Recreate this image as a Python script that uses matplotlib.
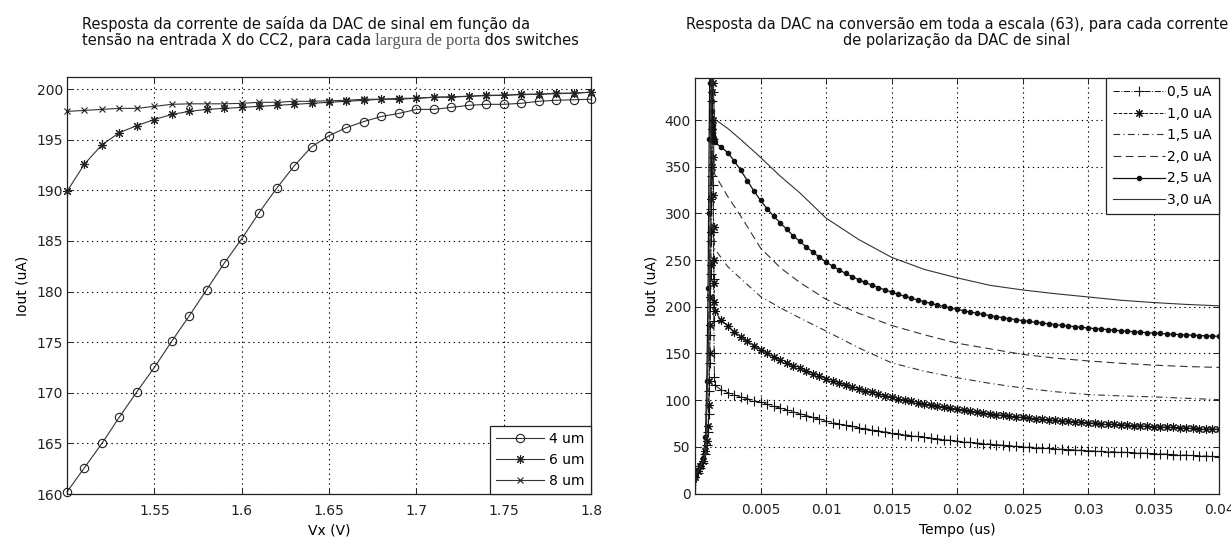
import numpy as np
import matplotlib
matplotlib.use('Agg')
import matplotlib.pyplot as plt
from matplotlib.transforms import IdentityTransform

plt.rcParams['font.family'] = ['DejaVu Sans']
plt.rcParams['font.size'] = 10

# ---------------- Left chart data ----------------
vx = [1.50, 1.51, 1.52, 1.53, 1.54, 1.55, 1.56, 1.57, 1.58, 1.59, 1.60,
      1.61, 1.62, 1.63, 1.64, 1.65, 1.66, 1.67, 1.68, 1.69, 1.70,
      1.71, 1.72, 1.73, 1.74, 1.75, 1.76, 1.77, 1.78, 1.79, 1.80]
iout_4um = [160.2, 162.6, 165.0, 167.6, 170.1, 172.5, 175.1, 177.6, 180.2, 182.8, 185.2,
            187.8, 190.2, 192.4, 194.3, 195.4, 196.2, 196.8, 197.3, 197.6, 198.0,
            198.0, 198.2, 198.4, 198.5, 198.5, 198.6, 198.8, 198.9, 198.95, 199.0]
iout_6um = [189.9, 192.6, 194.5, 195.7, 196.4, 197.0, 197.5, 197.8, 198.0, 198.1, 198.2,
            198.3, 198.4, 198.5, 198.6, 198.7, 198.8, 198.9, 199.0, 199.0, 199.1,
            199.2, 199.2, 199.3, 199.4, 199.4, 199.5, 199.5, 199.6, 199.6, 199.7]
iout_8um = [197.8, 197.9, 198.0, 198.1, 198.1, 198.3, 198.5, 198.55, 198.55, 198.55, 198.6,
            198.7, 198.7, 198.8, 198.8, 198.85, 198.9, 199.0, 199.0, 199.1, 199.1,
            199.2, 199.25, 199.3, 199.35, 199.4, 199.45, 199.5, 199.55, 199.6, 199.7]
left_labels = ['4 um', '6 um', '8 um']
left_xticks = [1.55, 1.6, 1.65, 1.7, 1.75, 1.8]
left_yticks = [160, 165, 170, 175, 180, 185, 190, 195, 200]

# ---------------- Right chart data ----------------
# start-up transient (dense simulator steps)
t_spike = [0.0, 0.0002, 0.0004, 0.0006, 0.0008, 0.0009, 0.001, 0.00104, 0.00108, 0.00112,
           0.00115, 0.00118, 0.0012, 0.00122, 0.00124, 0.00126, 0.00128, 0.0013, 0.00132,
           0.00134, 0.00136, 0.00138, 0.0014, 0.00142, 0.00144, 0.00146, 0.00148]
spike_05 = [0, 22, 27, 33, 42, 52, 66, 85, 110, 140, 170, 200, 235, 270, 305, 340, 380, 420,
            470, 430, 380, 330, 280, 230, 185, 150, 125]
spike_10 = [18, 24, 29, 35, 45, 56, 72, 95, 120, 150, 180, 210, 245, 280, 315, 350, 390, 430,
            470, 440, 400, 360, 320, 285, 250, 225, 205]
spike_25 = [20, 25, 30, 38, 60, 120, 220, 300, 380, 440, 470, 470, 460, 450, 440, 430, 420,
            410, 400, 395, 390, 386, 383, 381, 379, 378, 377]

# settling part, samples every 0.0005 us from 0.0015 to 0.04
t_fine = [round(0.0015 + 0.0005 * k, 5) for k in range(78)]
i_05 = [116, 111, 108, 105.5, 103.5, 101.5, 99.5, 97.5, 95.5, 93.5,
        91.5, 89.5, 87.5, 85.5, 83.5, 81.5, 79.5, 77.5, 76, 74.5,
        73, 71.8, 70.6, 69.4, 68.3, 67.2, 66.1, 65, 64, 63,
        62, 61.1, 60.2, 59.3, 58.5, 57.7, 56.9, 56.1, 55.4, 54.7,
        54.1, 53.5, 52.9, 52.3, 51.7, 51.2, 50.7, 50.2, 49.7, 49.2,
        48.7, 48.3, 47.9, 47.5, 47.1, 46.7, 46.3, 45.9, 45.5, 45.2,
        44.9, 44.6, 44.3, 44.0, 43.7, 43.4, 43.1, 42.8, 42.5, 42.2,
        41.6, 41.3, 41.0, 40.7, 40.4, 40.1, 39.8, 39.5]
i_10 = [195, 186, 179, 173, 168, 163, 158.5, 154, 150, 146.5,
        143, 140, 137, 134, 131, 128.3, 125.6, 123, 120.6, 118.3,
        116.1, 114, 112, 110, 108.2, 106.4, 104.7, 103, 101.5, 100,
        98.6, 97.2, 95.9, 94.6, 93.4, 92.2, 91.1, 90, 89, 88,
        87.1, 86.2, 85.3, 84.5, 83.7, 82.9, 82.2, 81.5, 80.8, 80.1,
        79.5, 78.9, 78.3, 77.7, 77.2, 76.7, 76.2, 75.7, 75.2, 74.8,
        74.4, 74.0, 73.6, 73.2, 72.8, 72.4, 72.0, 71.7, 71.4, 71.1,
        70.8, 70.5, 70.2, 69.9, 69.6, 69.3, 69.0, 68.8]
i_25 = [376, 371, 365, 356, 346, 335, 324, 314, 305, 297,
        290, 283, 276, 270, 264, 258.5, 253, 248, 243.5, 239.5,
        235.7, 232.2, 229, 226, 223.2, 220.6, 218.1, 215.7, 213.4, 211.3,
        209.3, 207.3, 205.4, 203.6, 201.9, 200.3, 198.7, 197.2, 195.8, 194.4,
        193.1, 191.8, 190.6, 189.4, 188.3, 187.2, 186.2, 185.2, 184.3, 183.4,
        182.5, 181.7, 180.9, 180.1, 179.4, 178.7, 178.0, 177.3, 176.7, 176.1,
        175.5, 174.9, 174.3, 173.8, 173.3, 172.8, 172.3, 171.8, 171.4, 171.0,
        170.6, 170.2, 169.8, 169.5, 169.2, 168.9, 168.6, 168.3]

# curves drawn without markers
t_coarse = [0.0, 0.0004, 0.0008, 0.0011, 0.00125, 0.0014,
            0.0015, 0.0025, 0.0035, 0.005, 0.0065, 0.008, 0.01, 0.0125, 0.015, 0.0175,
            0.02, 0.0225, 0.025, 0.0275, 0.03, 0.0325, 0.035, 0.0375, 0.04]
i_15 = [20, 28, 42, 200, 470, 300,
        262, 243, 230, 211, 199, 188, 174, 156, 140, 131,
        124, 118, 113, 109, 106, 104.5, 103.5, 102, 100.5]
i_20 = [20, 28, 42, 200, 470, 380,
        342, 318, 297, 263, 242, 226, 208, 193, 180, 170,
        161, 155, 149, 145, 142, 139.5, 137.5, 136, 135]
i_30 = [20, 28, 42, 200, 470, 430,
        401, 391, 379, 360, 340, 322, 295, 272, 253, 240,
        231, 223, 218, 214, 210.5, 207, 204.5, 202.5, 201]
right_labels = ['0,5 uA', '1,0 uA', '1,5 uA', '2,0 uA', '2,5 uA', '3,0 uA']
right_xticks = [0.005, 0.01, 0.015, 0.02, 0.025, 0.03, 0.035, 0.04]
right_yticks = [0, 50, 100, 150, 200, 250, 300, 350, 400]

W, H = 1231, 542
fig = plt.figure(figsize=(W / 100, H / 100), dpi=100)

def px_axes(x0, y0, x1, y1):
    return fig.add_axes([x0 / W, 1 - y1 / H, (x1 - x0) / W, (y1 - y0) / H])

def style_axes(ax):
    for s in ax.spines.values():
        s.set_linewidth(0.9)
        s.set_color('#222222')
    ax.tick_params(direction='in', top=True, right=True, length=4, width=0.7,
                   colors='#222222', labelsize=10)
    ax.tick_params(axis='x', pad=7)
    ax.tick_params(axis='y', pad=3)
    ax.grid(True, color='black', linestyle=(0, (1.2, 3.2)), linewidth=0.8)
    ax.set_axisbelow(False)

ASTER = (8, 2, 0)

# ---------------- Left axes ----------------
axL = px_axes(67, 77, 591, 494)
lc = '#333333'
axL.plot(vx, iout_4um, '-', color=lc, lw=0.8, marker='o', mfc='none', mec='#222222',
         ms=6, mew=0.8, label=left_labels[0], clip_on=False)
axL.plot(vx, iout_6um, '-', color=lc, lw=0.8, marker=ASTER, mec='#222222',
         ms=6.5, mew=0.8, label=left_labels[1], clip_on=False)
axL.plot(vx, iout_8um, '-', color=lc, lw=0.8, marker='x', mec='#222222',
         ms=4, mew=0.8, label=left_labels[2], clip_on=False)
axL.set_xlim(1.5, 1.8)
axL.set_ylim(160, 201.2)
axL.set_xticks(left_xticks)
axL.set_xticklabels(['1.55', '1.6', '1.65', '1.7', '1.75', '1.8'])
axL.set_yticks(left_yticks)
style_axes(axL)
axL.set_xlabel('Vx (V)', fontsize=10, labelpad=4)
axL.set_ylabel('Iout (uA)', fontsize=10, labelpad=5)
legL = axL.legend(loc='lower right', borderaxespad=0, fancybox=False, framealpha=1,
                  edgecolor='#222222', fontsize=10, handlelength=3.4, labelspacing=0.5,
                  handletextpad=0.4, borderpad=0.45)
legL.get_frame().set_linewidth(0.9)

# ---------------- Right axes ----------------
axR = px_axes(695, 78, 1219, 493.5)
axR.plot(t_spike + t_fine, spike_05 + i_05, linestyle='-.', color='#111111', lw=0.7,
         marker='+', ms=6.5, mew=0.8, label=right_labels[0])
axR.plot(t_spike + t_fine, spike_10 + i_10, linestyle='--', color='#111111', lw=0.7,
         marker=ASTER, ms=6, mew=0.8, label=right_labels[1])
axR.plot(t_coarse, i_15, linestyle=(0, (6, 3, 1, 3)), color='#333333', lw=0.8,
         label=right_labels[2])
axR.plot(t_coarse, i_20, linestyle=(0, (7, 4)), color='#333333', lw=0.8,
         label=right_labels[3])
axR.plot(t_spike + t_fine, spike_25 + i_25, linestyle='-', color='#111111', lw=0.9,
         marker='.', ms=6, label=right_labels[4])
axR.plot(t_coarse, i_30, linestyle='-', color='#333333', lw=0.8,
         label=right_labels[5])
axR.set_xlim(0, 0.04)
axR.set_ylim(0, 445)
axR.set_xticks(right_xticks)
axR.set_xticklabels(['0.005', '0.01', '0.015', '0.02', '0.025', '0.03', '0.035', '0.04'])
axR.set_yticks(right_yticks)
style_axes(axR)
axR.set_xlabel('Tempo (us)', fontsize=10, labelpad=4)
axR.set_ylabel('Iout (uA)', fontsize=10, labelpad=4)
legR = axR.legend(loc='upper right', borderaxespad=0, fancybox=False, framealpha=1,
                  edgecolor='#222222', fontsize=10, handlelength=3.8, labelspacing=0.55,
                  handletextpad=0.15, borderpad=0.5)
legR.get_frame().set_linewidth(0.9)

# ---------------- Titles ----------------
tfs = 10.5
fig.text(82 / W, 1 - 24 / H, 'Resposta da corrente de saída da DAC de sinal em função da',
         ha='left', va='center', fontsize=tfs, color='#111111')
p1 = fig.text(82 / W, 1 - 41 / H, 'tensão na entrada X do CC2, para cada',
              ha='left', va='center', fontsize=tfs, color='#111111')
p2 = fig.text(0, 0, ' largura de porta', fontsize=12, color='#555555',
              family=['Liberation Serif', 'DejaVu Serif'], ha='left', va='baseline')
p3 = fig.text(0, 0, ' dos switches', fontsize=tfs, color='#111111', ha='left', va='baseline')

fig.text(957 / W, 1 - 24 / H,
         'Resposta da DAC na conversão em toda a escala (63), para cada corrente',
         ha='center', va='center', fontsize=tfs, color='#111111')
fig.text(957 / W, 1 - 41 / H, 'de polarização da DAC de sinal',
         ha='center', va='center', fontsize=tfs, color='#111111')

# chain the mixed-font pieces of the left title
fig.canvas.draw()
r = fig.canvas.get_renderer()
bb1 = p1.get_window_extent(r)
p2.set_transform(IdentityTransform())
p2.set_position((bb1.x1, bb1.y0 + 3.4))
fig.canvas.draw()
bb2 = p2.get_window_extent(r)
p3.set_transform(IdentityTransform())
p3.set_position((bb2.x1, bb1.y0 + 3.4))

fig.savefig('out.png', dpi=100)
